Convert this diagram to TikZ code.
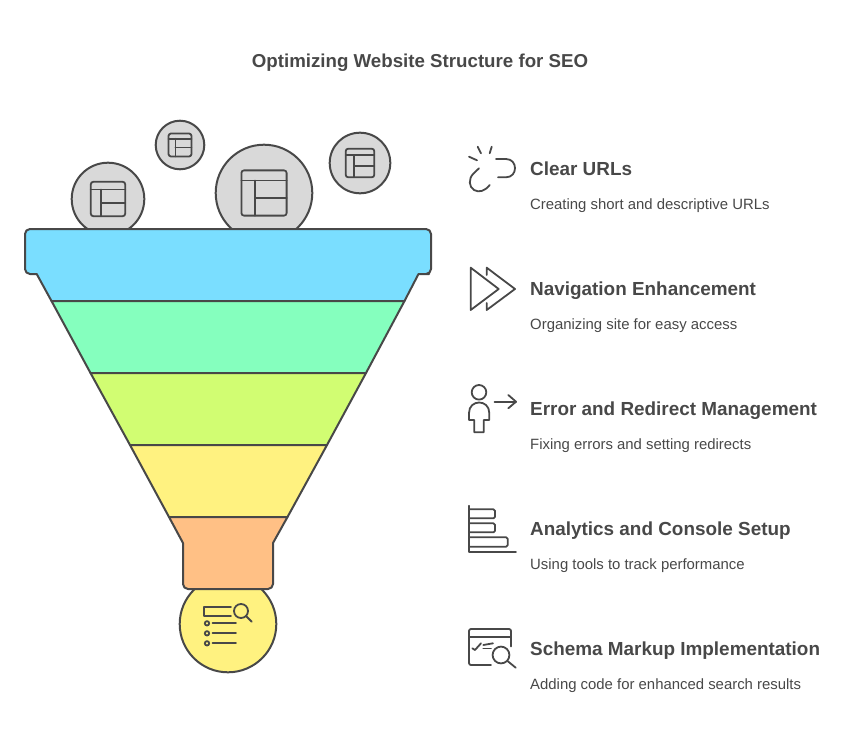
\documentclass[tikz,border=0pt]{standalone}
\usepackage{fontspec}
\setmainfont{Liberation Sans}
\usepackage{xcolor}
\usetikzlibrary{positioning}
\definecolor{inkgray}{HTML}{484848}
\definecolor{bubblegray}{HTML}{D9D9D9}
\definecolor{tierblue}{HTML}{7ADEFF}
\definecolor{tiergreen}{HTML}{85FFBE}
\definecolor{tierlime}{HTML}{D1FD72}
\definecolor{tieryellow}{HTML}{FFF280}
\definecolor{tierorange}{HTML}{FFC085}
\tikzset{
  ink/.style={draw=inkgray,line width=2pt,line join=round},
  thin ink/.style={draw=inkgray,line width=1.8pt,line join=round,line cap=round},
  heading/.style={anchor=base west,inner sep=0pt,text=inkgray,font=\fontsize{18.9}{21}\selectfont\bfseries},
  blurb/.style={anchor=base west,inner sep=0pt,text=inkgray,font=\fontsize{14.9}{17}\selectfont},
  layout/.pic={
    \draw[thin ink,rounded corners=2.5pt] (-1,-1) rectangle (1,1);
    \draw[thin ink] (-1,-.55)--(1,-.55); \draw[thin ink] (-.4,-.55)--(-.4,1); \draw[thin ink] (-.4,.22)--(1,.22);
  }
}
\begin{document}
\begin{tikzpicture}[x=1pt,y=-1pt]
\useasboundingbox (0,0) rectangle (853,746);
\node[anchor=base,inner sep=0pt,text=inkgray,font=\fontsize{18.7}{21}\selectfont\bfseries] (title) at (420,67.5) {Optimizing Website Structure for SEO};
% bubbles
\draw[ink,fill=bubblegray] (108,199) circle (36.3); \pic[scale=17.2] at (108,199) {layout};
\draw[ink,fill=bubblegray] (180,145) circle (24.3); \pic[scale=11.5] at (180,145) {layout};
\draw[ink,fill=bubblegray] (264,193) circle (48.3); \pic[scale=22.6] at (264,193) {layout};
\draw[ink,fill=bubblegray] (360,163) circle (30.3); \pic[scale=14.3] at (360,163) {layout};
\draw[ink,fill=tieryellow] (228,624) circle (48.3);
% funnel
\draw[ink,fill=tierblue] (51.5,301)--(36.7,274)--(30,274)[rounded corners=5pt]--(25,274)--(25,229)--(431,229)--(431,274)--(424,274)--(423.9,274)[sharp corners]--(418.5,274)--(404.5,301)--cycle;
\draw[ink,fill=tiergreen] (51.5,301)--(404.5,301)--(366,373)--(90.5,373)--cycle;
\draw[ink,fill=tierlime] (90.5,373)--(366,373)--(327,445)--(130,445)--cycle;
\draw[ink,fill=tieryellow] (130,445)--(327,445)--(287.5,517)--(169,517)--cycle;
\draw[ink,fill=tierorange] (169,517)--(287.5,517)--(273,543)--(273,570)[rounded corners=5pt]--(273,589)--(183,589)--(183,570)[sharp corners]--(183,543)--cycle;
% bottom icon
\draw[thin ink] (231,606.7)--(204.3,606.7)--(204.3,615.7)--(231,615.7);
\draw[thin ink] (241,611) circle (7); \draw[thin ink] (246,616)--(251.7,621.7);
\draw[thin ink] (207,623.3) circle (2.2); \draw[thin ink] (212.5,623.3)--(236,623.3);
\draw[thin ink] (207,633.3) circle (2.2); \draw[thin ink] (212.5,633.3)--(236,633.3);
\draw[thin ink] (207,643.3) circle (2.2); \draw[thin ink] (212.5,643.3)--(236,643.3);
% broken link
\draw[thin ink] (477.7,146.7)--(481,153.3); \draw[thin ink] (491.7,146.7)--(489.7,153.3); \draw[thin ink] (469,156.7)--(477,160.3);
\draw[thin ink] (496,159)--(506,159) .. controls (518,159) and (518,177.3) .. (506,177.3)--(498,177.3);
\draw[thin ink] (479,168.3)--(473.5,173.5) .. controls (468,179) and (469,187) .. (474,190) .. controls (479,193) and (485,191) .. (489.7,185);
% chevrons
\draw[thin ink] (470.7,267.7)--(498.7,289)--(470.7,310)--cycle;
\draw[thin ink] (486.7,275)--(486.7,267.7)--(515,289)--(486.7,310)--(486.7,303);
% person
\draw[thin ink] (479,392.3) circle (7.3);
\draw[thin ink] (474.3,432.3)--(474.3,420)--(469,420)--(469,413) .. controls (469,399) and (489.3,399) .. (489.3,413)--(489.3,420)--(483.7,420)--(483.7,432.3)--cycle;
\draw[thin ink] (494.5,401.7)--(516,401.7); \draw[thin ink] (508.3,395)--(516,401.7)--(508.3,408.3);
% bars
\draw[thin ink] (469,505.7)--(469,551.7)--(516,551.7);
\draw[thin ink,rounded corners=1.5pt] (469,509.3)--(495,509.3)--(495,518.3)--(469,518.3);
\draw[thin ink,rounded corners=1.5pt] (469,523.3)--(495,523.3)--(495,532.3)--(469,532.3);
\draw[thin ink,rounded corners=1.5pt] (469,537.3)--(507.7,537.3)--(507.7,546.7)--(469,546.7);
% schema window
\draw[thin ink,rounded corners=2pt] (511,646.5)--(511,629)--(469,629)--(469,665)--(491,665);
\draw[thin ink] (469,636.7)--(511,636.7);
\draw[thin ink] (472.3,648.3)--(475,650)--(481,643.3);
\draw[thin ink] (483.3,645)--(493,643.3); \draw[thin ink] (483.3,648.5)--(491,648.5);
\draw[thin ink] (501,655) circle (8.4); \draw[thin ink] (507.5,661)--(515.7,667.7);
% labels
\node[heading] (urlhead) at (530,175.5) {Clear URLs};
\node[blurb] (urlblurb) at (530,209.5) {Creating short and descriptive URLs};
\node[heading] (navhead) at (530,295.5) {Navigation Enhancement};
\node[blurb] (navblurb) at (530,329.5) {Organizing site for easy access};
\node[heading] (errhead) at (530,415.5) {Error and Redirect Management};
\node[blurb] (errblurb) at (530,449.5) {Fixing errors and setting redirects};
\node[heading] (anahead) at (530,535.5) {Analytics and Console Setup};
\node[blurb] (anablurb) at (530,569.5) {Using tools to track performance};
\node[heading] (schemahead) at (530,655.5) {Schema Markup Implementation};
\node[blurb] (schemablurb) at (530,689.5) {Adding code for enhanced search results};
\end{tikzpicture}
\end{document}
